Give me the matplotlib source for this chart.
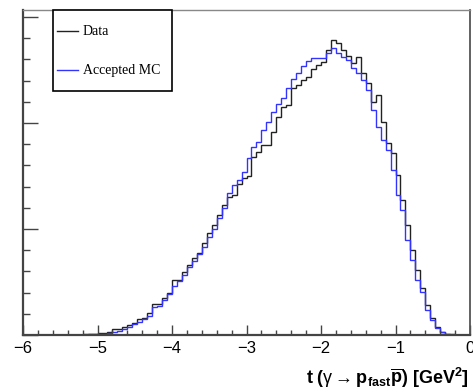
import numpy as np
import matplotlib
matplotlib.use("Agg")
import matplotlib.pyplot as plt
from matplotlib.patches import Rectangle
from matplotlib.ticker import MultipleLocator, NullFormatter

plt.rcParams['font.family'] = ['Liberation Sans', 'DejaVu Sans']
plt.rcParams['mathtext.fontset'] = 'custom'
plt.rcParams['mathtext.rm'] = 'Liberation Sans'
plt.rcParams['mathtext.bf'] = 'Liberation Sans:bold'
plt.rcParams['mathtext.it'] = 'Liberation Sans:italic'

# histogram range: 90 bins from -6 to 0
t_min, t_max, n_bins = -6.0, 0.0, 90

# Data (black), bin contents
data_counts = [
    0, 0, 0, 0, 0, 0, 0, 0, 0, 0,
    0, 2, 5, 8, 12, 18, 22, 30, 55, 60,
    75, 95, 115, 150, 165, 210, 292, 292, 349, 396,
    519, 519, 594, 660, 726, 773, 868, 962, 1037, 1132,
    1226, 1301, 1320, 1424, 1480, 1499, 1679, 1726, 1792, 1792,
    1914, 2056, 2150, 2169, 2329, 2358, 2405, 2433, 2508, 2546,
    2574, 2688, 2782, 2754, 2688, 2631, 2565, 2622, 2471, 2376,
    2197, 2263, 2009, 1811, 1716, 1509, 1273, 1037, 802, 613,
    443, 283, 160, 75, 28, 10, 5, 2, 0, 0,
]

# Accepted MC (blue)
mc_counts = [
    0, 0, 0, 0, 0, 0, 0, 0, 0, 0,
    0, 0, 3, 5, 8, 10, 14, 18, 30, 40,
    55, 75, 100, 125, 155, 180, 260, 275, 330, 385,
    460, 510, 565, 640, 700, 760, 830, 920, 1000, 1100,
    1200, 1339, 1415, 1462, 1537, 1669, 1773, 1820, 1933, 2009,
    2103, 2178, 2235, 2329, 2414, 2471, 2537, 2584, 2612, 2612,
    2612, 2659, 2706, 2659, 2622, 2593, 2518, 2471, 2405, 2310,
    2122, 1961, 1839, 1745, 1556, 1320, 1179, 896, 707, 519,
    405, 236, 141, 66, 28, 10, 4, 1, 0, 0,
]

labels = ["Data", "Accepted MC"]
colors = ['#222222', '#3333ff']
xlabel = (r'$\mathbf{t\ (}\mathrm{\gamma}\rightarrow'
          r'\mathbf{p_{fast}\overline{p})\ [GeV^{2}]}$')

edges = np.linspace(t_min, t_max, n_bins + 1)

fig = plt.figure(figsize=(4.73, 3.92), dpi=100)
ax = fig.add_axes([23 / 473, 1 - 335 / 392, 447 / 473, 325 / 392])

ax.stairs(data_counts, edges, color=colors[0], linewidth=1.0)
ax.stairs(mc_counts, edges, color=colors[1], linewidth=1.0)

ax.set_xlim(t_min, t_max)
ax.set_ylim(0, 3065)

# ROOT-like ticks: inside, no y labels
ax.xaxis.set_major_locator(MultipleLocator(1))
ax.xaxis.set_minor_locator(MultipleLocator(0.2))
ax.yaxis.set_major_locator(MultipleLocator(1000))
ax.yaxis.set_minor_locator(MultipleLocator(200))
ax.yaxis.set_major_formatter(NullFormatter())
ax.tick_params(axis='x', which='major', direction='in', length=7, width=1.0,
               color='#444444', labelsize=12, pad=4)
ax.tick_params(axis='x', which='minor', direction='in', length=3.5, width=1.0,
               color='#444444')
ax.tick_params(axis='y', which='major', direction='in', length=11, width=1.0,
               color='#444444')
ax.tick_params(axis='y', which='minor', direction='in', length=5, width=1.0,
               color='#444444')

for side in ['left', 'bottom']:
    ax.spines[side].set_color('#444444')
    ax.spines[side].set_linewidth(1.6)
ax.spines['right'].set_color('#555555')
ax.spines['right'].set_linewidth(1.3)
ax.spines['top'].set_color('#888888')
ax.spines['top'].set_linewidth(1.0)

fig.text(469 / 473, 1 - 378 / 392, xlabel, ha='right', va='center', fontsize=13)

# ROOT-style legend box, drawn in axes coordinates
ax.add_patch(Rectangle((0.0671, 0.7508), 0.2662, 0.2492, transform=ax.transAxes,
                       facecolor='white', edgecolor='black', linewidth=1.2,
                       clip_on=False, zorder=5))
for lab, col, yy in zip(labels, colors, [0.935, 0.815]):
    ax.plot([0.0761, 0.1230], [yy, yy], transform=ax.transAxes, color=col,
            linewidth=1.0, clip_on=False, zorder=6)
    ax.text(0.1342, yy, lab, transform=ax.transAxes, ha='left', va='center',
            fontsize=10, family='Liberation Serif', zorder=6)

fig.savefig("out.png", dpi=100)
